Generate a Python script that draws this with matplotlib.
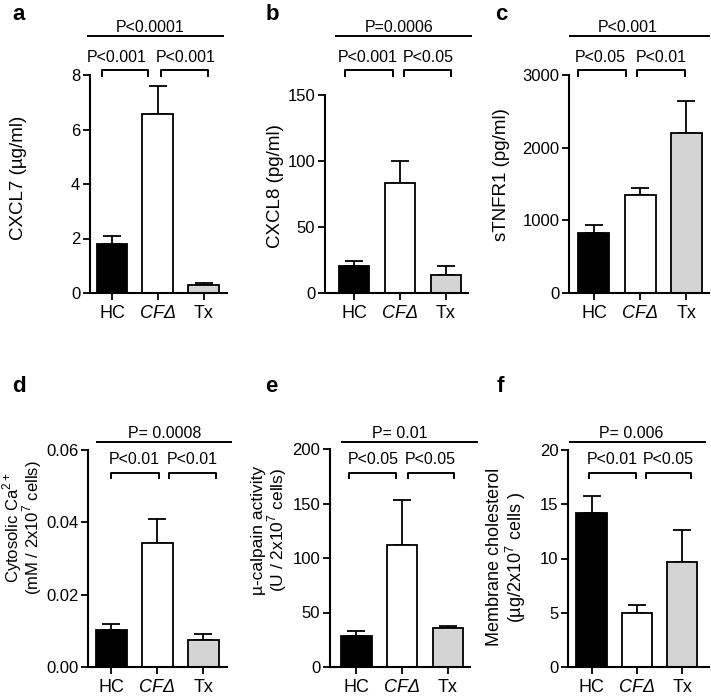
import matplotlib
matplotlib.use('Agg')
import matplotlib.pyplot as plt
import matplotlib.transforms as mtransforms

plt.rcParams['font.family'] = ['Liberation Sans', 'DejaVu Sans']
plt.rcParams['mathtext.fontset'] = 'custom'
plt.rcParams['mathtext.rm'] = 'Liberation Sans'

# data
groups = ['HC', 'CFΔ', 'Tx']
colors = ['black', 'white', '#d4d4d4']

cxcl7 = [1.80, 6.57, 0.31]
cxcl7_err = [0.30, 1.03, 0.04]
cxcl8 = [20.5, 83.3, 13.6]
cxcl8_err = [3.7, 16.5, 6.9]
stnfr1 = [826, 1349, 2202]
stnfr1_err = [110, 96, 440]
calcium = [0.0101, 0.0344, 0.0075]
calcium_err = [0.0019, 0.0064, 0.0016]
calpain = [28.7, 112, 35.5]
calpain_err = [4.0, 41, 1.8]
cholesterol = [14.2, 5.0, 9.7]
cholesterol_err = [1.6, 0.7, 2.9]

ylabels = ['CXCL7 (µg/ml)', 'CXCL8 (pg/ml)', 'sTNFR1 (pg/ml)',
           'Cytosolic Ca$^{2+}$\n(mM / 2x10$^{7}$ cells)',
           'µ-calpain activity\n(U / 2x10$^{7}$ cells)',
           'Membrane cholesterol\n(µg/2x10$^{7}$ cells )']
yticks = [[0, 2, 4, 6, 8], [0, 50, 100, 150], [0, 1000, 2000, 3000],
          [0, 0.02, 0.04, 0.06], [0, 50, 100, 150, 200], [0, 5, 10, 15, 20]]
yticklabels = [None, None, None, ['0.00', '0.02', '0.04', '0.06'], None, None]
overall_p = ['P<0.0001', 'P=0.0006', 'P<0.001', 'P= 0.0008', 'P= 0.01', 'P= 0.006']
pair_p = [['P<0.001', 'P<0.001'], ['P<0.001', 'P<0.05'], ['P<0.05', 'P<0.01'],
          ['P<0.01', 'P<0.01'], ['P<0.05', 'P<0.05'], ['P<0.01', 'P<0.05']]
letters = ['a', 'b', 'c', 'd', 'e', 'f']

means = [cxcl7, cxcl8, stnfr1, calcium, calpain, cholesterol]
errs = [cxcl7_err, cxcl8_err, stnfr1_err, calcium_err, calpain_err, cholesterol_err]

# layout (pixels / data-x offsets)
W, H = 711, 700
axes_px = [(90, 227, 293, 75), (325, 468, 293, 95), (569, 709, 293, 75),
           (88, 227, 667, 450), (330, 470, 667, 449), (568, 709, 667, 450)]
xlims = [(-0.48, 2.51), (-0.63, 2.48), (-0.54, 2.49),
         (-0.51, 2.52), (-0.57, 2.48), (-0.52, 2.59)]
brackets = [[(-0.22, 0.79), (1.07, 2.1)], [(-0.2, 0.85), (1.09, 2.1)],
            [(-0.35, 0.7), (0.93, 1.96)], [(0.0, 1.03), (1.26, 2.29)],
            [(-0.15, 0.87), (1.13, 2.13)], [(-0.05, 0.97), (1.2, 2.2)]]
pair_label_x = [(0.11, 1.6), (0.29, 1.61), (0.13, 1.46),
                (0.49, 1.76), (0.37, 1.62), (0.46, 1.7)]
toplines = [(-0.52, 2.43), (-0.39, 2.54), (-0.52, 2.48),
            (-0.32, 2.6), (-0.3, 2.63), (-0.47, 2.5)]
toplabel_x = [0.83, 0.98, 0.74, 1.17, 0.96, 0.88]
ylabel_px = [(19, 178), (275, 186), (502, 175), (22, 528), (270, 530), (507, 557)]
ylabel_size = [13.5, 13.5, 13.5, 12, 12.5, 13]
ylabel_spacing = [1.0, 1.0, 1.0, 0.8, 0.95, 1.0]
letter_px = [(19, 15), (272, 15), (501, 15), (19, 387), (271, 387), (500, 387)]
row_y = [dict(label=27, line=36, p=58, btop=70, bbot=76),
         dict(label=433, line=442, p=460, btop=473, bbot=478)]

fig = plt.figure(figsize=(W / 100, H / 100), dpi=100)
fy = lambda py: 1 - py / H

for i in range(6):
    left, right, bottom, top = axes_px[i]
    ax = fig.add_axes([left / W, fy(bottom), (right - left) / W, (bottom - top) / H])
    x = range(len(groups))
    ax.bar(x, means[i], width=0.67, color=colors, edgecolor='black', linewidth=1.3, zorder=2)
    ax.errorbar(x, means[i], yerr=[[0, 0, 0], errs[i]], fmt='none', ecolor='black',
                elinewidth=1.3, capsize=6.5, capthick=1.3, zorder=1)
    ax.set_xlim(*xlims[i])
    ax.set_ylim(yticks[i][0], yticks[i][-1])
    ax.set_yticks(yticks[i])
    if yticklabels[i] is not None:
        ax.set_yticklabels(yticklabels[i])
    ax.set_xticks(list(x))
    ax.set_xticklabels(groups, fontsize=13)
    ax.get_xticklabels()[1].set_fontstyle('italic')
    ax.tick_params(axis='y', labelsize=12, direction='out', length=5, width=1.3, pad=2)
    ax.tick_params(axis='x', direction='out', length=5, width=1.3, pad=4)
    for s in ['top', 'right']:
        ax.spines[s].set_visible(False)
    for s in ['left', 'bottom']:
        ax.spines[s].set_linewidth(1.5)

    lx, ly = ylabel_px[i]
    fig.text(lx / W, fy(ly), ylabels[i], rotation=90, ha='center', va='center',
             multialignment='center', fontsize=ylabel_size[i],
             linespacing=ylabel_spacing[i])

    # annotations: x in data, y in figure
    tr = mtransforms.blended_transform_factory(ax.transData, fig.transFigure)
    ry = row_y[i // 3]
    ax.plot(toplines[i], [fy(ry['line'])] * 2, color='black', lw=1.4,
            transform=tr, clip_on=False)
    ax.text(toplabel_x[i], fy(ry['label']), overall_p[i], transform=tr,
            ha='center', va='center', fontsize=11.5)
    for (x0, x1), lab, px in zip(brackets[i], pair_p[i], pair_label_x[i]):
        ax.plot([x0, x0, x1, x1], [fy(ry['bbot']), fy(ry['btop']), fy(ry['btop']), fy(ry['bbot'])],
                color='black', lw=1.4, transform=tr, clip_on=False)
        ax.text(px, fy(ry['p']), lab, transform=tr,
                ha='center', va='center', fontsize=11.5)

    lx, ly = letter_px[i]
    fig.text(lx / W, fy(ly), letters[i], fontsize=16, fontweight='bold',
             ha='center', va='center')

fig.savefig('out.png', dpi=100)
